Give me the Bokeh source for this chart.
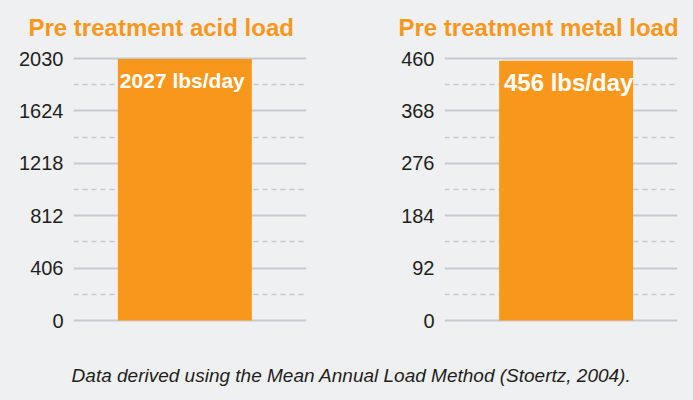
from bokeh.plotting import figure
from bokeh.layouts import column, row
from bokeh.models import (ColumnDataSource, FactorRange, Range1d, FixedTicker,
                          Label, GlobalInlineStyleSheet)
from bokeh.core.properties import value
from bokeh.transform import dodge
from bokeh.embed import file_html
from bokeh.resources import INLINE

# ---- data ----
acid_category = ["Acid"]
acid_load = [2027]
acid_label = ["2027 lbs/day"]
acid_ticks = [0, 406, 812, 1218, 1624, 2030]

metal_category = ["Metal"]
metal_load = [456]
metal_label = ["456 lbs/day"]
metal_ticks = [0, 92, 184, 276, 368, 460]

titles = ["Pre treatment acid load", "Pre treatment metal load"]
caption = "Data derived using the Mean Annual Load Method (Stoertz, 2004)."

BG = "#eff0f2"
ORANGE = "#f7981d"
GRID = "#c8c9cc"
TEXT = "#231f20"
FONT = "Liberation Sans"


def make_panel(cat, vals, labels, ticks, label_size, shift, left, right, width):
    top = ticks[-1]
    step = ticks[1] - ticks[0]
    pad = 2 * top / 262.0
    xr = FactorRange(*cat, range_padding=0)
    p = figure(width=width, height=290, output_backend="svg", toolbar_location=None,
               x_range=xr,
               y_range=Range1d(-pad, top + pad),
               min_border_left=left, min_border_right=right,
               min_border_top=16, min_border_bottom=8,
               background_fill_color=BG, border_fill_color=BG,
               outline_line_color=None)
    p.frame_width = 233
    p.frame_height = 266
    src = ColumnDataSource(dict(x=cat, y=vals, label=labels))
    p.vbar(x=dodge("x", shift, range=xr), top="y", bottom=0, width=0.575, source=src,
           fill_color=ORANGE, line_color=None)
    p.text(x=dodge("x", shift * 1.5, range=xr), y="y", text="label", source=src,
           text_align="center", text_baseline="middle", y_offset=22,
           text_color="white", text_font=value(FONT), text_font_style="bold",
           text_font_size=label_size)
    p.xaxis.visible = False
    p.xgrid.visible = False
    minor = [t + step / 2 for t in ticks[:-1]]
    p.yaxis.ticker = FixedTicker(ticks=ticks, minor_ticks=minor)
    p.yaxis.axis_line_color = None
    p.yaxis.major_tick_line_color = None
    p.yaxis.minor_tick_line_color = None
    p.yaxis.major_tick_out = 0
    p.yaxis.minor_tick_out = 0
    p.yaxis.major_label_standoff = 10
    p.yaxis.major_label_text_font = FONT
    p.yaxis.major_label_text_font_size = "20px"
    p.yaxis.major_label_text_color = TEXT
    p.ygrid.grid_line_color = GRID
    p.ygrid.grid_line_width = 2
    p.ygrid.minor_grid_line_color = GRID
    p.ygrid.minor_grid_line_dash = "5 4"
    p.ygrid.minor_grid_line_width = 1.5
    return p


def text_strip(height):
    f = figure(width=693, height=height, output_backend="svg", toolbar_location=None,
               x_range=Range1d(0, 693), y_range=Range1d(0, height),
               min_border=0, background_fill_color=BG, border_fill_color=BG,
               outline_line_color=None)
    f.axis.visible = False
    f.grid.visible = False
    return f


p0 = text_strip(40)
for tx, t in zip([28, 398], titles):
    p0.add_layout(Label(x=tx, y=13, text=t, text_font=FONT, text_font_style="bold",
                        text_font_size="24px", text_color=ORANGE,
                        text_baseline="alphabetic", text_align="left"))

p1 = make_panel(acid_category, acid_load, acid_label, acid_ticks,
                "21px", -0.022, 73, 52, 358)
p2 = make_panel(metal_category, metal_load, metal_label, metal_ticks,
                "24px", 0.022, 86, 16, 335)

p3 = text_strip(70)
p3.add_layout(Label(x=351, y=25, text=caption, text_align="center",
                    text_baseline="middle", text_font=FONT,
                    text_font_style="italic", text_font_size="19px",
                    text_color=TEXT))

layout = column(p0, row(p1, p2, spacing=0), p3, spacing=0,
                stylesheets=[GlobalInlineStyleSheet(css=f"html, body {{ background-color: {BG}; }}")])

open("out.html", "w").write(file_html(layout, INLINE))
